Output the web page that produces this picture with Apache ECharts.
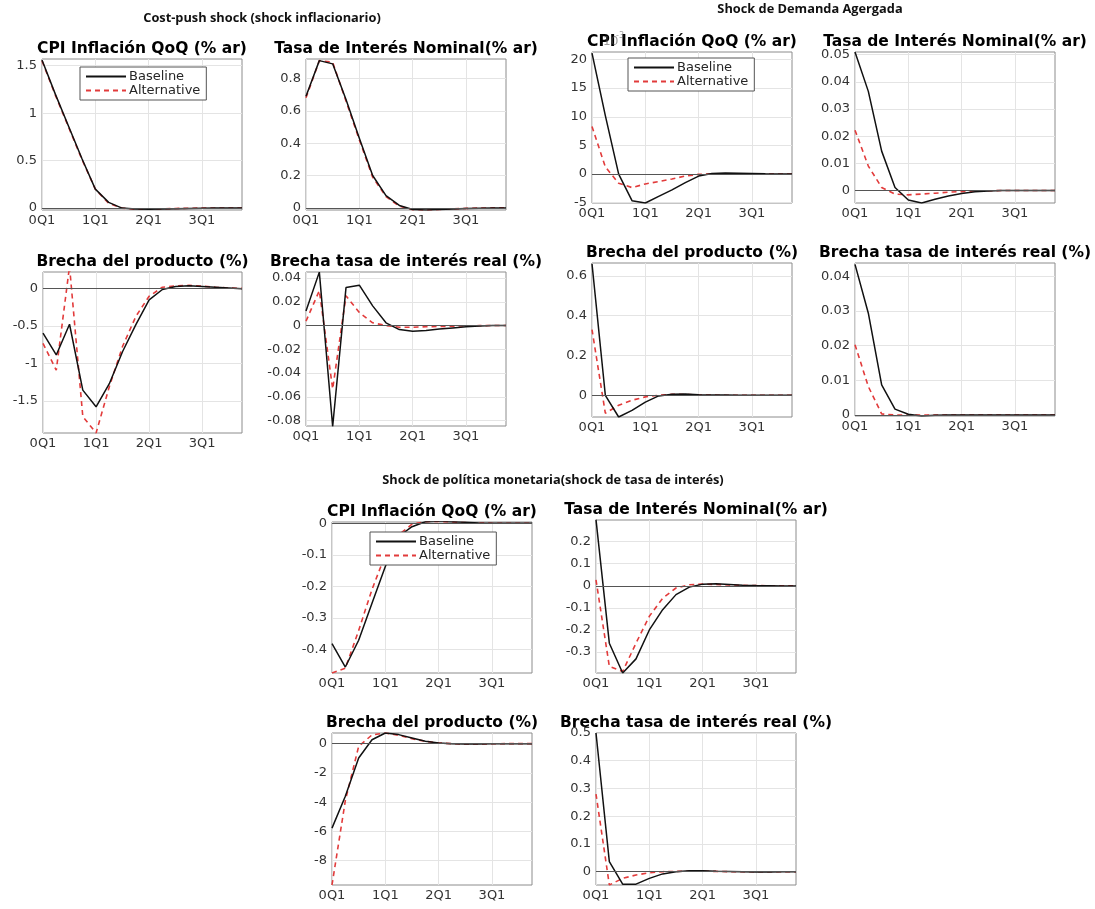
<!DOCTYPE html>
<html>
<head>
<meta charset="utf-8">
<script src="https://cdn.jsdelivr.net/npm/echarts@6/dist/echarts.min.js"></script>
<style>html,body{margin:0;padding:0;background:#fff;}#c{width:1095px;height:909px;}</style>
</head>
<body>
<div id="c"></div>
<script>
// ---------- DATA ----------
const quarters = ['0Q1','0Q2','0Q3','0Q4','1Q1','1Q2','1Q3','1Q4','2Q1','2Q2','2Q3','2Q4','3Q1','3Q2','3Q3','3Q4'];
const seriesNames = ['Baseline', 'Alternative'];

const sectionTitles = ['Cost-push shock (shock inflacionario)', 'Shock de Demanda Agergada', 'Shock de política monetaria(shock de tasa de interés)'];
const panelTitles = ['CPI Inflación QoQ (% ar)', 'Tasa de Interés Nominal(% ar)', 'Brecha del producto (%)', 'Brecha tasa de interés real (%)'];

// Cost-push shock
const cpCPI_base  = [1.56,1.2,0.86,0.52,0.2,0.06,0.0,-0.01,-0.012,-0.01,-0.006,-0.003,-0.001,0,0,0];
const cpCPI_alt   = [1.55,1.19,0.85,0.51,0.2,0.05,0.0,-0.012,-0.01,-0.008,-0.004,-0.002,0,0,0,0];
const cpRate_base = [0.69,0.91,0.89,0.67,0.43,0.2,0.076,0.015,-0.01,-0.013,-0.01,-0.007,-0.004,-0.002,0,0];
const cpRate_alt  = [0.68,0.91,0.9,0.66,0.42,0.19,0.07,0.01,-0.011,-0.013,-0.01,-0.006,-0.003,-0.001,0,0];
const cpGap_base  = [-0.595,-0.886,-0.475,-1.356,-1.58,-1.27,-0.84,-0.48,-0.15,-0.01,0.03,0.04,0.03,0.02,0.01,0];
const cpGap_alt   = [-0.73,-1.09,0.3,-1.71,-1.93,-1.31,-0.77,-0.37,-0.1,0.02,0.04,0.045,0.035,0.02,0.01,0.005];
const cpReal_base = [0.0123,0.045,-0.085,0.032,0.034,0.0166,0.0023,-0.0034,-0.0049,-0.0042,-0.003,-0.002,-0.001,-0.0004,0,0];
const cpReal_alt  = [0.0037,0.0294,-0.0534,0.025,0.011,0.0023,0,-0.0014,-0.0014,-0.001,-0.0008,-0.0005,-0.0003,-0.0001,0,0];

// Demand shock
const dmCPI_base  = [21.1,10.2,0,-4.65,-5.05,-3.9,-2.76,-1.5,-0.35,0.1,0.17,0.15,0.1,0.05,0.02,0];
const dmCPI_alt   = [8.3,1.26,-1.6,-2.36,-1.72,-1.32,-0.86,-0.34,-0.06,0.05,0.05,0.03,0.02,0.01,0,0];
const dmRate_base = [0.051,0.0365,0.0145,0.0011,-0.0035,-0.0046,-0.0032,-0.002,-0.0011,-0.0005,-0.0002,0,0,0,0,0];
const dmRate_alt  = [0.0222,0.009,0.0011,-0.0013,-0.0016,-0.0013,-0.001,-0.0006,-0.0004,-0.0002,-0.0001,0,0,0,0,0];
const dmGap_base  = [0.66,0,-0.109,-0.076,-0.034,-0.003,0.005,0.007,0.003,0.002,0.001,0,0,0,0,0];
const dmGap_alt   = [0.33,-0.09,-0.05,-0.025,-0.008,0,0.005,0.004,0.002,0.001,0,0,0,0,0,0];
const dmReal_base = [0.0435,0.0294,0.0087,0.0017,0.0002,-0.0003,-0.0001,0,0,0,0,0,0,0,0,0];
const dmReal_alt  = [0.0203,0.0082,0.0003,0,0,0,0,0,0,0,0,0,0,0,0,0];

// Monetary policy shock
const mpCPI_base  = [-0.382,-0.456,-0.371,-0.254,-0.137,-0.042,-0.011,0.005,0.007,0.005,0.003,0.001,0,0,0,0];
const mpCPI_alt   = [-0.475,-0.46,-0.34,-0.21,-0.1,-0.037,-0.003,0.005,0.006,0.004,0.002,0.001,0,0,0,0];
const mpRate_base = [0.3,-0.26,-0.395,-0.331,-0.2,-0.108,-0.04,-0.006,0.0075,0.009,0.006,0.003,0.001,0,-0.001,-0.001];
const mpRate_alt  = [0.027,-0.365,-0.388,-0.26,-0.138,-0.056,-0.01,0.0045,0.0075,0.006,0.004,0.002,0.001,0,0,0];
const mpGap_base  = [-5.78,-3.6,-0.98,0.27,0.73,0.62,0.39,0.16,0.05,0,-0.02,-0.02,-0.01,0,0,0];
const mpGap_alt   = [-9.67,-3.9,-0.18,0.6,0.73,0.57,0.34,0.16,0.05,0,-0.02,-0.015,-0.01,0,0,0];
const mpReal_base = [0.5,0.036,-0.045,-0.045,-0.024,-0.008,0,0.0036,0.0036,0.002,0.001,0,-0.001,-0.001,0,0];
const mpReal_alt  = [0.28,-0.048,-0.024,-0.012,-0.004,0,0.001,0.002,0.002,0.001,0,0,0,0,0,0];

// y tick labels per panel
const yTicks = [
  [0,0.5,1,1.5],
  [0,0.2,0.4,0.6,0.8],
  [-1.5,-1,-0.5,0],
  [-0.08,-0.06,-0.04,-0.02,0,0.02,0.04],
  [-5,0,5,10,15,20],
  [0,0.01,0.02,0.03,0.04,0.05],
  [0,0.2,0.4,0.6],
  [0,0.01,0.02,0.03,0.04],
  [-0.4,-0.3,-0.2,-0.1,0],
  [-0.3,-0.2,-0.1,0,0.1,0.2],
  [-8,-6,-4,-2,0],
  [0,0.1,0.2,0.3,0.4,0.5]
];
const yRanges = [
  [-0.02,1.57],[-0.013,0.92],[-1.93,0.224],[-0.0846,0.0451],
  [-5.05,21.3],[-0.0046,0.051],[-0.109,0.664],[-0.0003,0.0439],
  [-0.475,0.004],[-0.395,0.298],[-9.67,0.73],[-0.048,0.5]
];
const baseData = [cpCPI_base,cpRate_base,cpGap_base,cpReal_base,dmCPI_base,dmRate_base,dmGap_base,dmReal_base,mpCPI_base,mpRate_base,mpGap_base,mpReal_base];
const altData  = [cpCPI_alt,cpRate_alt,cpGap_alt,cpReal_alt,dmCPI_alt,dmRate_alt,dmGap_alt,dmReal_alt,mpCPI_alt,mpRate_alt,mpGap_alt,mpReal_alt];

// ---------- LAYOUT ----------
const gridBoxes = [
  [42,59,200,151],[306,59,200,151],[43,272,199,161],[306,272,200,154],
  [592,52,200,151],[855,52,200,151],[592,263,200,154],[855,263,200,153],
  [332,522,200,151],[596,520,200,153],[332,733,200,152],[596,733,200,152]
];
const FONT = "'DejaVu Sans', sans-serif";
const RED = '#e23b3b';

const grids = [], xAxes = [], yAxes = [], series = [], graphics = [];
gridBoxes.forEach((b, i) => {
  grids.push({left:b[0], top:b[1], width:b[2], height:b[3], show:true, borderColor:'#8c8c8c', borderWidth:1, backgroundColor:'#fff', containLabel:false});
  xAxes.push({
    type:'category', gridIndex:i, data:quarters, boundaryGap:false,
    axisLine:{show:false}, axisTick:{show:false},
    axisLabel:{interval:3, color:'#333', fontSize:13, fontFamily:FONT, margin:4},
    splitLine:{show:true, interval:3, lineStyle:{color:'#e4e4e4', width:1}}
  });
  yAxes.push({
    type:'value', gridIndex:i, min:yRanges[i][0], max:yRanges[i][1],
    axisLine:{show:false},
    axisTick:{show:false, customValues:yTicks[i]},
    axisLabel:{customValues:yTicks[i], color:'#333', fontSize:13, fontFamily:FONT, margin:5},
    splitLine:{show:true, lineStyle:{color:'#e4e4e4', width:1}}
  });
  series.push({
    name:seriesNames[0], type:'line', xAxisIndex:i, yAxisIndex:i, data:baseData[i],
    symbol:'none', lineStyle:{color:'#111', width:1.5}, itemStyle:{color:'#111'}, z:3,
    markLine:{silent:true, symbol:'none', label:{show:false}, animation:false,
      lineStyle:{color:'#555', width:1, type:'solid'}, data:[{yAxis:0}]}
  });
  series.push({
    name:seriesNames[1], type:'line', xAxisIndex:i, yAxisIndex:i, data:altData[i],
    symbol:'none', lineStyle:{color:RED, width:1.6, type:[5,4]}, itemStyle:{color:RED}, z:2
  });
  graphics.push({
    type:'text', x:b[0] + b[2]/2, y:b[1] - 10, z:10,
    style:{text:panelTitles[i % 4], font:"bold 15.5px 'DejaVu Sans'", fill:'#000', textAlign:'center', textVerticalAlign:'middle'}
  });
});

// section titles
const secPos = [[262,18],[810,9],[553,480]];
sectionTitles.forEach((t, k) => {
  graphics.push({type:'text', x:secPos[k][0], y:secPos[k][1], z:10,
    style:{text:t, font:"bold 12.8px 'Open Sans'", fill:'#111', textAlign:'center', textVerticalAlign:'middle'}});
});
// exponent marker on demand CPI axis
graphics.push({type:'text', x:603, y:42, z:11,
  style:{text:'10', font:"12px 'DejaVu Sans'", fill:'rgba(90,90,90,0.6)', textAlign:'left', textVerticalAlign:'middle'}});
graphics.push({type:'text', x:616, y:36, z:11,
  style:{text:'-3', font:"8px 'DejaVu Sans'", fill:'rgba(90,90,90,0.6)', textAlign:'left', textVerticalAlign:'middle'}});

const legendBase = {
  data:seriesNames, orient:'vertical', itemWidth:40, itemHeight:10, itemGap:1,
  backgroundColor:'#fff', borderColor:'#555', borderWidth:1, borderRadius:0,
  padding:[3,6,3,5], selectedMode:false, z:20,
  itemStyle:{color:'rgba(0,0,0,0)', borderColor:'rgba(0,0,0,0)', borderWidth:0},
  textStyle:{fontSize:13, color:'#262626', fontFamily:FONT, padding:[0,0,0,-2]}
};
const legends = [
  Object.assign({}, legendBase, {left:80, top:67}),
  Object.assign({}, legendBase, {left:628, top:58}),
  Object.assign({}, legendBase, {left:370, top:532})
];

const chart = echarts.init(document.getElementById('c'), null, {renderer:'canvas'});
chart.setOption({
  animation:false,
  backgroundColor:'#fff',
  legend:legends,
  grid:grids, xAxis:xAxes, yAxis:yAxes, series:series,
  graphic:graphics
});
</script>
</body>
</html>
